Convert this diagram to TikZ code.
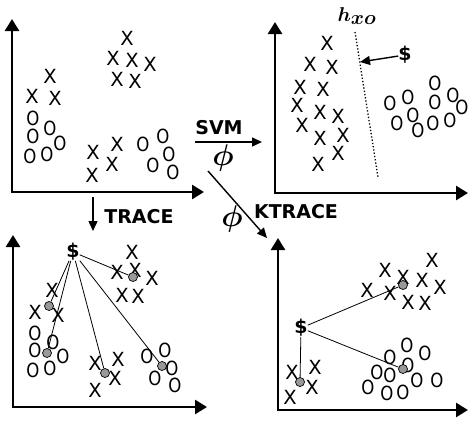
\documentclass[tikz,border=0pt]{standalone}
\usepackage{fix-cm}
\usepackage{fontspec}
\setsansfont{DejaVu Sans}
\usepackage{graphicx}
\usetikzlibrary{arrows.meta}
\begin{document}
\begin{tikzpicture}[x=1pt,y=-1pt,
    axis/.style={line width=2.6pt, {Triangle[length=12pt,width=14pt]}-{Triangle[length=12pt,width=14pt]}},
    xpt/.style={inner sep=0pt, font=\sffamily\fontsize{19.5}{19.5}\selectfont},
    opt/.style={inner sep=0pt, font=\sffamily\fontsize{19.5}{19.5}\selectfont},
    dot/.style={circle, draw=black, fill=gray!80, line width=0.7pt, minimum size=9pt, inner sep=0pt},
    lbl/.style={inner sep=0pt, font=\sffamily\bfseries\fontsize{19}{19}\selectfont},
    phi/.style={inner sep=0pt, font=\fontsize{30}{30}\selectfont\boldmath},
    link/.style={line width=0.8pt},
    flow/.style={line width=1.4pt, -{Triangle[length=10pt,width=9pt]}}]
\useasboundingbox (0,0) rectangle (469,424);

% top left: input space
\coordinate (p1y) at (12,19);
\coordinate (p1o) at (12,192);
\coordinate (p1x) at (204,192);
\draw[axis] (p1y) -- (p1o) -- (p1x);
\foreach \x/\y [count=\i] in {127/38,113/58,132/60,150/64,117/79,135/81,50/76,32/96,55/98,93/152,117/144,112/164,92/175}
  \node[xpt] (a-x\i) at (\x,\y) {X};
\foreach \x/\y [count=\i] in {33/118,50/128,33/136,60/143,30/156,47/154,143/144,163/136,169/154,153/165,173/172}
  \node[opt] (a-o\i) at (\x,\y) {\scalebox{.85}[1]{O}};

% top right: SVM in feature space
\coordinate (p2y) at (275,22);
\coordinate (p2o) at (275,193);
\coordinate (p2x) at (468,193);
\draw[axis] (p2y) -- (p2o) -- (p2x);
\foreach \x/\y [count=\i] in {327/43,310/64,332/67,300/87,323/89,297/105,320/112,338/116,302/125,320/138,343/135,338/153,318/164}
  \node[xpt] (b-x\i) at (\x,\y) {X};
\foreach \x/\y [count=\i] in {390/103,408/97,435/83,435/102,453/95,462/107,413/115,397/123,418/130,433/123,450/120}
  \node[opt] (b-o\i) at (\x,\y) {\scalebox{.85}[1]{O}};
\node[inner sep=0pt, font=\fontsize{20}{20}\selectfont\boldmath] (hxo) at (357,16) {$h_{\textstyle xo}$};
\coordinate (hxo-top) at (355,32);
\coordinate (hxo-bot) at (378,177);
\coordinate (hxo-hit) at (360,62);
\draw[line width=1.3pt, dotted] (hxo-top) -- (hxo-bot);
\node[lbl] (b-sv) at (405,55) {\$};
\draw[flow] (b-sv) -- (hxo-hit);

% bottom left: TRACE
\coordinate (p3y) at (13,235);
\coordinate (p3o) at (13,407);
\coordinate (p3x) at (207,407);
\draw[axis] (p3y) -- (p3o) -- (p3x);
\foreach \x/\y [count=\i] in {132/252,117/272,135/270,152/278,122/295,138/296,52/290,35/312,58/315,95/363,118/359,115/378,95/390}
  \node[xpt] (c-x\i) at (\x,\y) {X};
\foreach \x/\y [count=\i] in {35/333,53/342,35/350,63/356,33/370,50/368,147/356,165/350,172/368,155/378,175/385}
  \node[opt] (c-o\i) at (\x,\y) {\scalebox{.85}[1]{O}};
\node[lbl] (c-sv) at (73,252) {\$};
\foreach \x/\y [count=\i] in {133/277,49/306,47/353,105/373,162/366}
  \node[dot] (c-d\i) at (\x,\y) {};
\foreach \i in {1,...,5}
  \draw[link] (c-sv) -- (c-d\i);

% bottom right: KTRACE
\coordinate (p4y) at (278,238);
\coordinate (p4o) at (278,410);
\coordinate (p4x) at (468,410);
\draw[axis] (p4y) -- (p4o) -- (p4x);
\foreach \x/\y [count=\i] in {385/270,403/277,422/280,432/260,440/287,367/290,390/293,408/302,425/303,292/372,315/367,312/387,290/397}
  \node[xpt] (d-x\i) at (\x,\y) {X};
\foreach \x/\y [count=\i] in {407/345,425/353,390/357,408/365,377/372,390/375,417/380,437/380,368/387,387/393,403/392}
  \node[opt] (d-o\i) at (\x,\y) {\scalebox{.85}[1]{O}};
\node[lbl] (d-sv) at (301,328) {\$};
\foreach \x/\y [count=\i] in {403/285,403/369,300/382}
  \node[dot] (d-d\i) at (\x,\y) {};
\foreach \i in {1,...,3}
  \draw[link] (d-sv) -- (d-d\i);

% arrows between the panels
\coordinate (svm-s) at (195,142);
\coordinate (svm-e) at (262,142);
\draw[flow] (svm-s) -- (svm-e);
\node[lbl] (svm) at (219,128) {SVM};
\node[phi] (phi1) at (223,158) {$\phi$};
\coordinate (tr-s) at (93,197);
\coordinate (tr-e) at (93,231);
\draw[flow] (tr-s) -- (tr-e);
\node[lbl] (trace) at (139,217) {TRACE};
\coordinate (kt-s) at (208,171);
\coordinate (kt-e) at (267,238);
\draw[flow] (kt-s) -- (kt-e);
\node[phi] (phi2) at (232,219) {$\phi$};
\node[lbl] (ktrace) at (296,212) {KTRACE};
\end{tikzpicture}
\end{document}
